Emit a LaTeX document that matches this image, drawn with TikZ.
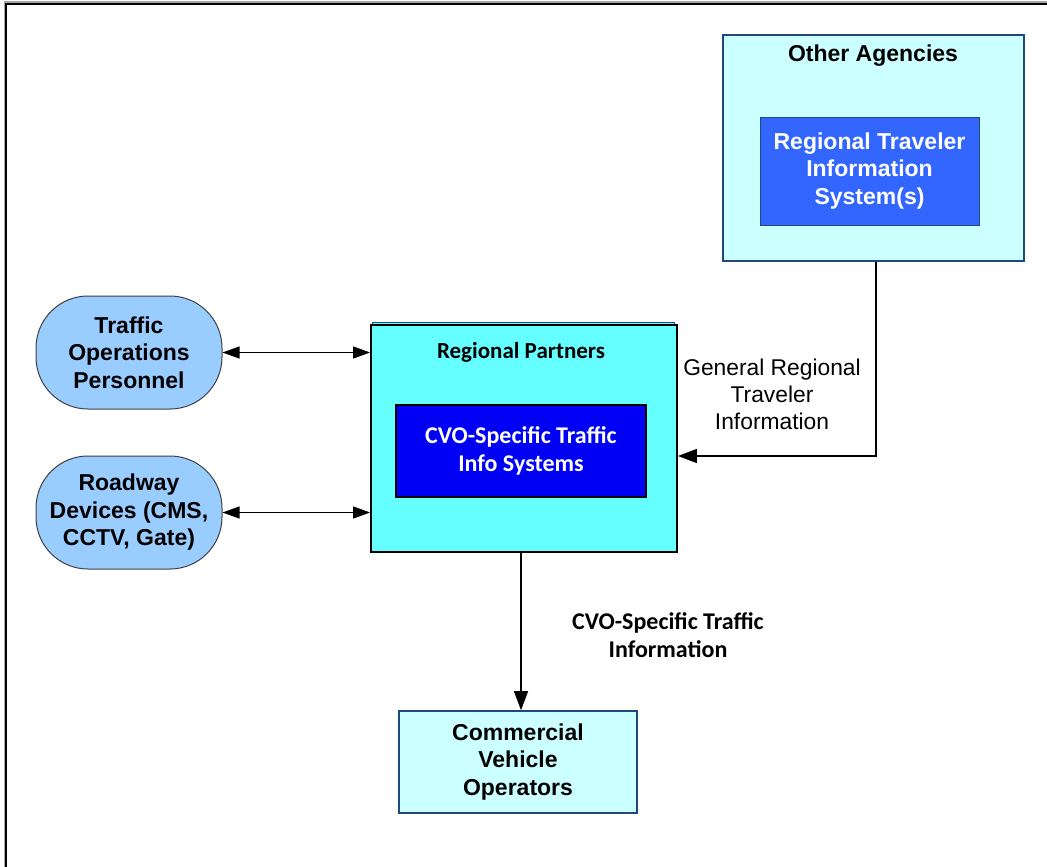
\documentclass[tikz,border=0pt]{standalone}
\usepackage{fontspec}
\setmainfont{Liberation Sans}
\newfontfamily\calib{Carlito}
\usetikzlibrary{arrows.meta}
\definecolor{paleCyan}{HTML}{CCFFFF}
\definecolor{brightCyan}{HTML}{66FFFF}
\definecolor{pureBlue}{HTML}{0000F4}
\definecolor{midBlue}{HTML}{3366FF}
\definecolor{skyBlue}{HTML}{99CCFF}
\definecolor{navyEdge}{HTML}{1F497D}
\tikzset{
  x=1pt, y=-1pt,
  arialtxt/.style={font=\fontsize{23}{27.5}\selectfont\bfseries, align=center, text=black},
  calibtxt/.style={font=\calib\fontsize{24}{28}\selectfont\bfseries, align=center},
  palebox/.style={draw=navyEdge, line width=1.6pt, fill=paleCyan, inner sep=0pt},
  actor/.style={draw=black!75, line width=1pt, fill=skyBlue, rounded corners=52pt, inner sep=0pt,
    minimum width=186pt, minimum height=113pt, arialtxt},
  flow/.style={line width=1.3pt, -{Triangle[length=19pt,width=14pt]}},
  biflow/.style={line width=1.1pt, {Triangle[length=17pt,width=12pt]}-{Triangle[length=17pt,width=12pt]}},
}
\begin{document}
\begin{tikzpicture}
\useasboundingbox (0,0) rectangle (1047,867);
\fill[white] (0,0) rectangle (1047,867);

% page frame
\draw[line width=3pt, black!35] (5,867) -- (5,3) -- (1047,3);
\draw[line width=1.6pt, black] (6,867) -- (6,4) -- (1047,4);

% other agencies
\node[palebox, minimum width=301pt, minimum height=226pt] (oa) at (873.5,148) {};
\node[arialtxt] (oat) at (873,56) {Other Agencies};
\node[draw=navyEdge, line width=1pt, fill=midBlue, minimum width=219pt, minimum height=108pt,
  arialtxt, text=white, inner sep=0pt] (rtis) at (869.5,171) {Regional Traveler\\Information\\System(s)};

% regional partners
\draw[draw=navyEdge, line width=0.8pt, fill=brightCyan] (372,322) rectangle (674,420);
\node[draw=black, line width=1.8pt, fill=brightCyan, minimum width=306pt, minimum height=227pt,
  inner sep=0pt] (rp) at (524,438.5) {};
\node[calibtxt, font=\calib\fontsize{23}{28}\selectfont\bfseries] (rpt) at (521,352) {Regional Partners};
\node[draw=black, line width=1.6pt, fill=pureBlue, minimum width=250pt, minimum height=92pt,
  inner sep=0pt, calibtxt, text=white] (cvo) at (521,451) {CVO-Specific Traffic\\Info Systems};

% actors
\node[actor] (top) at (129,352.5) {Traffic\\Operations\\Personnel};
\node[actor] (rd) at (129,512.5) {Roadway\\Devices (CMS,\\CCTV, Gate)};

% commercial vehicle operators
\node[palebox, minimum width=238pt, minimum height=102pt, arialtxt] (cvop) at (518,762)
  {Commercial\\Vehicle\\Operators};

% connectors
\coordinate (gx) at (876,0);
\coordinate (gy) at (0,456);
\coordinate (cx) at (521,0);
\draw[biflow] (top.east) -- (rp.west |- top.east);
\draw[biflow] (rd.east) -- (rp.west |- rd.east);
\draw[flow] (oa.south -| gx) |- (rp.east |- gy);
\draw[flow] (rp.south -| cx) -- (cvop.north -| cx);

% flow labels
\node[font=\fontsize{22.8}{27}\selectfont, align=center] (glab) at (772,394)
  {General Regional\\Traveler\\Information};
\node[calibtxt] (clab) at (668,635) {CVO-Specific Traffic\\Information};
\end{tikzpicture}
\end{document}
